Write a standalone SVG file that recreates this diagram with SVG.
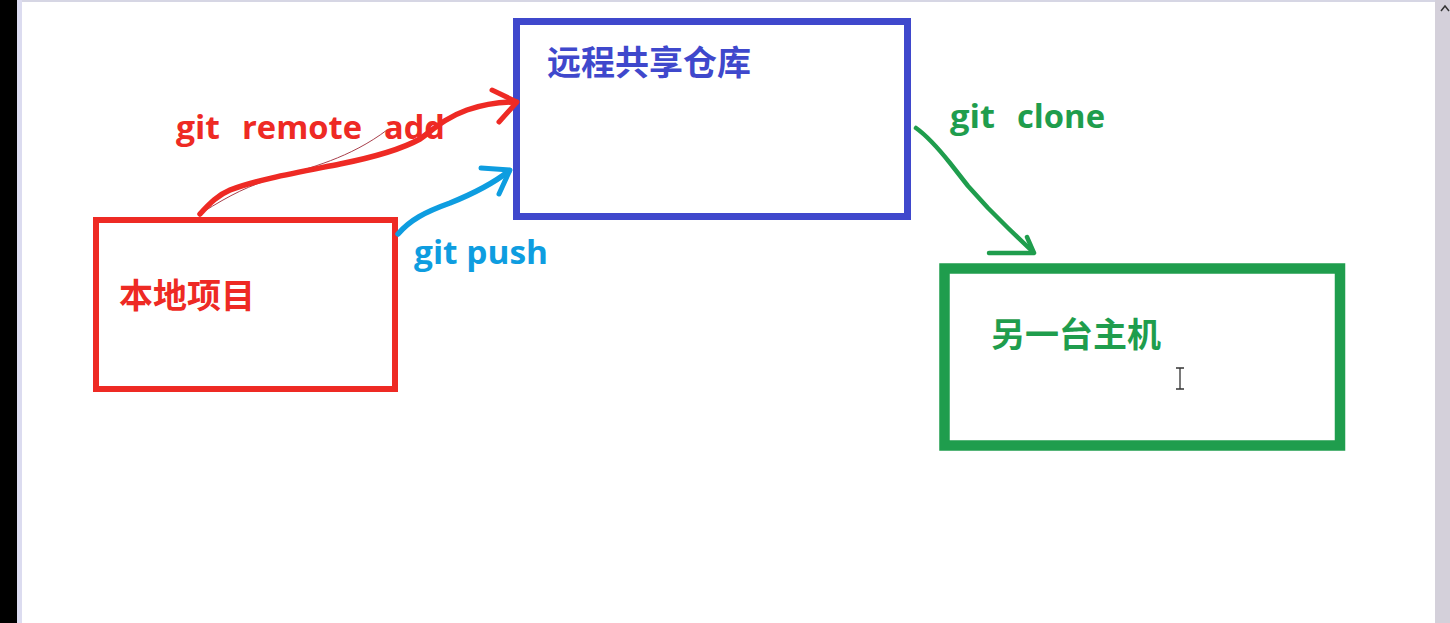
<svg xmlns="http://www.w3.org/2000/svg" width="1450" height="623" viewBox="0 0 1450 623">
<style>
.cjk{font-family:"Noto Sans CJK SC","Noto Sans",sans-serif;font-weight:700;font-size:34px}
.lbl{font-family:"Open Sans","Noto Sans",sans-serif;font-weight:700;font-size:32px}
.box{fill:none}
.ink{fill:none;stroke-linecap:round;stroke-linejoin:round}
</style>
<rect x="0" y="0" width="1450" height="623" fill="#ffffff"/>
<g id="chrome">
<rect x="0" y="0" width="17" height="623" fill="#000000"/>
<rect x="17" y="0" width="5" height="623" fill="#dcdcf0"/>
<rect x="22" y="0" width="1413" height="2" fill="#d6d6e4"/>
<rect x="1435" y="0" width="15" height="623" fill="#d4d0da"/>
<path d="M1441 11 L1445 6 L1449 11" fill="none" stroke="#333" stroke-width="1.5"/>
</g>
<g id="local">
<rect class="box" x="96" y="220" width="299" height="169" stroke="#ee2a24" stroke-width="6"/>
<text class="cjk" x="119" y="308" fill="#ee2a24">本地项目</text>
</g>
<g id="remote">
<rect class="box" x="516.5" y="21.5" width="391" height="195" stroke="#3f48cc" stroke-width="7"/>
<text class="cjk" x="547" y="75" fill="#3f48cc">远程共享仓库</text>
</g>
<g id="other">
<rect class="box" x="944.5" y="268.5" width="395.5" height="177" stroke="#1f9d4d" stroke-width="10.5"/>
<text class="cjk" x="991" y="347" fill="#1f9d4d">另一台主机</text>
</g>
<g id="connectors">
<path class="ink" d="M203 212 C230 195 250 185 275 178 C310 168 350 158 387 130" stroke="#a8404c" stroke-width="1"/>
<path class="ink" d="M200 214 C210 203 218 195 230 190 C255 180 300 172 340 164 C370 158 400 150 420 139 C435 128 445 118 467 110 C485 104 500 102 516 102" stroke="#ee2a24" stroke-width="5.5"/>
<path class="ink" d="M492 90 L517 102 L499 122" stroke="#ee2a24" stroke-width="5"/>
<path class="ink" d="M398 234 C410 220 425 212 450 203 C475 193 495 182 509 171" stroke="#0e9de0" stroke-width="5.5"/>
<path class="ink" d="M481 168 L510 170 L499 194" stroke="#0e9de0" stroke-width="5"/>
<path class="ink" d="M916 128 Q930 138 950 163 L968 186 L988 208 L1008 228 L1033 252" stroke="#1f9d4d" stroke-width="4.5"/>
<path class="ink" d="M1027 237 L1034 253 L989 253" stroke="#1f9d4d" stroke-width="4.5"/>
</g>
<g id="labels">
<text class="lbl" y="139" fill="#ee2a24"><tspan x="176" textLength="44" lengthAdjust="spacingAndGlyphs">git</tspan><tspan x="242" textLength="120" lengthAdjust="spacingAndGlyphs">remote</tspan><tspan x="384" textLength="61" lengthAdjust="spacingAndGlyphs">add</tspan></text>
<text class="lbl" x="414" y="264" fill="#0e9de0" textLength="134" lengthAdjust="spacingAndGlyphs">git push</text>
<text class="lbl" y="128" fill="#1f9d4d"><tspan x="950" textLength="45" lengthAdjust="spacingAndGlyphs">git</tspan><tspan x="1017" textLength="88" lengthAdjust="spacingAndGlyphs">clone</tspan></text>
</g>
<g id="cursor">
<path d="M1176 368 H1184 M1180 368 V389 M1176 389 H1184" fill="none" stroke="#333" stroke-width="1.3"/>
</g>
</svg>
